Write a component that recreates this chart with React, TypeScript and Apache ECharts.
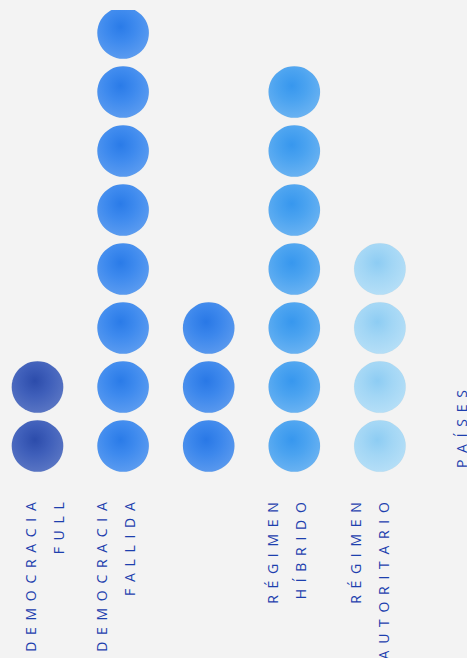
import React, { useEffect, useRef } from "react";
import * as echarts from "echarts";

// ---- data ----
const categories: string[] = [
  "DEMOCRACIA\nFULL",
  "DEMOCRACIA\nFALLIDA",
  "",
  "RÉGIMEN\nHÍBRIDO",
  "RÉGIMEN\nAUTORITARIO",
];
const countries: number[] = [2, 8, 3, 7, 4];
const axisName = "PAÍSES";

// ---- styles ----
const BG = "#f3f3f3";
const TEXT = "#1d3fae";
const FONT = "14px 'Open Sans'";
const palette: string[][] = [
  ["#2c4cab", "#3f5fba", "#5a76c4"],
  ["#2a7be8", "#3e8aee", "#5c9cf0"],
  ["#2978e6", "#3c87ec", "#5a99ee"],
  ["#3797ee", "#4ba3f0", "#6bb3f2"],
  ["#8dccf3", "#a2d6f5", "#b6dff7"],
];
// horizontal nudge of each label block (px, + = right)
const labelNudge = [7, -8, 0, -7.5, -10];
const LABEL_MARGIN = 20;

function paint(stops: string[]) {
  return new echarts.graphic.RadialGradient(0.45, 0.38, 0.65, [
    { offset: 0, color: stops[0] },
    { offset: 0.45, color: stops[1] },
    { offset: 1, color: stops[2] },
  ]);
}

export default function App() {
  const ref = useRef<HTMLDivElement>(null);
  useEffect(() => {
    if (!ref.current) return;
    const chart = echarts.init(ref.current, null, { renderer: "svg" });
    const option: any = {
      animation: false,
      backgroundColor: BG,
      grid: {
        left: -5.3,
        right: 44.3,
        top: 3.5,
        bottom: 182.5,
        containLabel: false,
        outerBoundsMode: "none",
      },
      xAxis: {
        type: "category",
        data: categories,
        axisLine: { show: false },
        axisTick: { show: false },
        axisLabel: { show: false },
      },
      yAxis: { type: "value", min: 0, max: 8, show: false },
      series: [
        {
          type: "pictorialBar",
          symbol: "circle",
          symbolRepeat: true,
          symbolSize: [51.5, 51.5],
          symbolMargin: "4!",
          data: countries.map((v, i) => ({
            value: v,
            itemStyle: {
              color: paint(palette[i]),
              borderColor: "rgba(95,100,125,0.35)",
              borderWidth: 0.8,
            },
          })),
        },
      ],
    };
    chart.setOption(option);

    // category labels, placed from the category axis
    const baseY = chart.convertToPixel({ yAxisIndex: 0 }, 0) as number;
    const labels = categories
      .map((c, i) => {
        if (!c) return null;
        const x = chart.convertToPixel({ xAxisIndex: 0 }, i) as number;
        return {
          type: "text",
          x: x + labelNudge[i],
          y: baseY + LABEL_MARGIN,
          rotation: Math.PI / 2,
          style: {
            text: c,
            fill: TEXT,
            font: FONT,
            lineHeight: 28,
            align: "right",
            verticalAlign: "middle",
          },
        };
      })
      .filter(Boolean);

    chart.setOption({
      graphic: [
        {
          type: "rect",
          left: 0,
          top: 0,
          z: 100,
          shape: { width: 467, height: 10 },
          style: { fill: BG },
        },
        ...labels,
        {
          type: "text",
          x: 461.5,
          y: 468,
          rotation: Math.PI / 2,
          style: {
            text: axisName,
            fill: TEXT,
            font: FONT,
            align: "left",
            verticalAlign: "middle",
          },
        },
      ],
    });
    return () => chart.dispose();
  }, []);
  return (
    <div
      ref={ref}
      style={{
        position: "fixed",
        left: 0,
        top: 0,
        width: 467,
        height: 658,
        letterSpacing: "6.7px",
      }}
    />
  );
}
